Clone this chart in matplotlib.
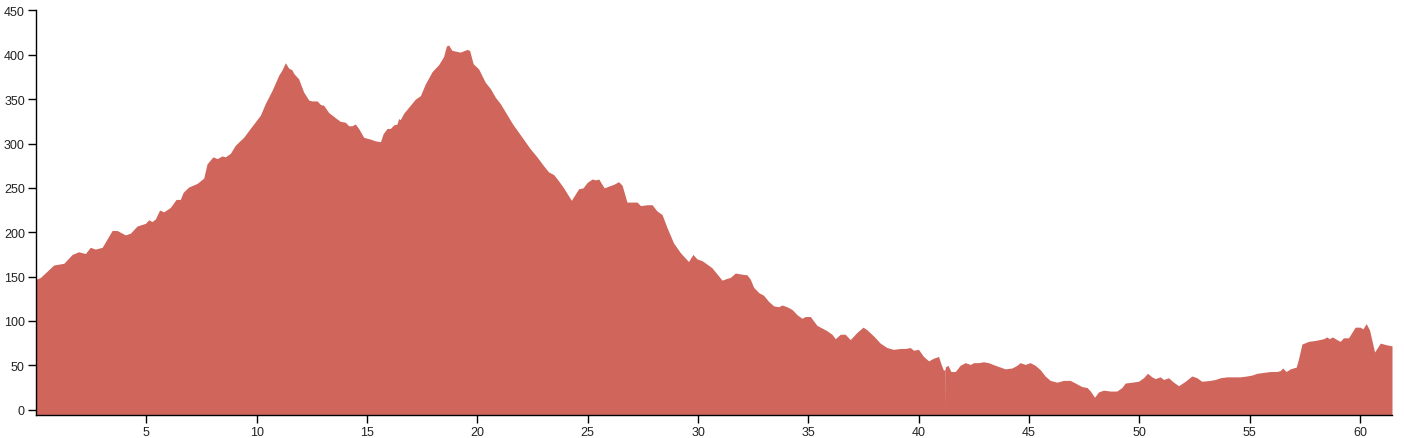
import matplotlib
matplotlib.use('Agg')
import matplotlib.pyplot as plt

plt.rcParams['font.family'] = ['Liberation Sans', 'DejaVu Sans']

# distance (km) and elevation (m), read from the profile
distance = [
    0.0, 0.2, 0.5, 0.8, 1.26, 1.64, 1.93, 2.24, 2.46, 2.69, 3.0, 3.45, 3.67,
    4.05, 4.28, 4.58, 4.96, 5.11, 5.26, 5.41, 5.60, 5.79, 6.09, 6.35, 6.54,
    6.67, 6.92, 7.30, 7.60, 7.75, 8.02, 8.21, 8.43, 8.58, 8.81, 9.03, 9.41,
    9.71, 10.17, 10.39, 10.70, 11.00, 11.15, 11.30, 11.45, 11.60, 11.68,
    11.90, 12.13, 12.36, 12.51, 12.74, 12.89, 13.04, 13.26, 13.57, 13.79,
    14.02, 14.17, 14.32, 14.47, 14.62, 14.85, 15.15, 15.38, 15.61, 15.73,
    15.91, 16.06, 16.21, 16.36, 16.43, 16.51, 16.66, 16.89, 17.19, 17.42,
    17.64, 17.95, 18.25, 18.47, 18.60, 18.70, 18.85, 19.23, 19.53, 19.65,
    19.81, 20.06, 20.36, 20.59, 20.82, 21.04, 21.6, 22.40, 22.70, 23.00,
    23.23, 23.46, 23.68, 23.91, 24.26, 24.44, 24.59, 24.79, 24.97, 25.20,
    25.35, 25.50, 25.75, 25.95, 26.18, 26.40, 26.56, 26.78, 27.01, 27.24,
    27.39, 27.69, 27.92, 28.14, 28.37, 28.60, 28.89, 29.20, 29.42, 29.57,
    29.77, 29.95, 30.18, 30.41, 30.63, 30.86, 31.09, 31.31, 31.46, 31.69,
    31.92, 32.22, 32.37, 32.52, 32.75, 32.97, 33.20, 33.43, 33.65, 33.81,
    34.03, 34.26, 34.49, 34.71, 34.86, 35.09, 35.39, 35.62, 35.84, 36.07,
    36.22, 36.45, 36.67, 36.90, 37.20, 37.48, 37.66, 37.96, 38.26, 38.56,
    38.86, 39.17, 39.39, 39.62, 39.77, 39.99, 40.22, 40.45, 40.67, 40.90,
    41.02, 41.13, 41.195, 41.20, 41.205, 41.33, 41.46, 41.66, 41.88, 42.11,
    42.34, 42.49, 42.71, 42.94, 43.16, 43.47, 43.70, 43.92, 44.23, 44.45,
    44.60, 44.83, 45.05, 45.28, 45.51, 45.73, 45.96, 46.27, 46.57, 46.87,
    47.10, 47.40, 47.63, 47.78, 47.97, 48.15, 48.38, 48.68, 48.98, 49.21,
    49.36, 49.67, 49.96, 50.19, 50.37, 50.57, 50.72, 50.95, 51.10, 51.32,
    51.55, 51.78, 52.08, 52.38, 52.61, 52.83, 53.21, 53.44, 53.67, 53.97,
    54.27, 54.57, 54.88, 55.10, 55.33, 55.63, 55.93, 56.23, 56.38, 56.50,
    56.65, 56.84, 57.11, 57.21, 57.37, 57.67, 57.97, 58.35, 58.50, 58.61,
    58.75, 58.95, 59.10, 59.25, 59.48, 59.63, 59.78, 60.01, 60.13, 60.28,
    60.43, 60.66, 60.92, 61.22, 61.45,
]
elevation = [
    147, 149, 156, 163, 165, 175, 178, 176, 183, 181, 183, 202, 202,
    197, 199, 207, 210, 214, 212, 215, 225, 223, 228, 237, 237,
    245, 251, 255, 261, 277, 285, 283, 286, 285, 289, 298, 307,
    317, 332, 345, 360, 377, 383, 391, 385, 383, 379,
    373, 358, 349, 348, 348, 344, 343, 335, 329, 325,
    324, 320, 320, 322, 317, 307, 305, 303, 302, 311,
    317, 317, 321, 322, 328, 327, 334, 341, 350, 354,
    367, 381, 389, 398, 410, 411, 405, 403, 406, 405,
    390, 384, 369, 362, 352, 345, 322, 294, 285, 275,
    268, 265, 258, 250, 236, 243, 249, 250, 256, 260,
    259, 260, 250, 252, 254, 257, 253, 234, 234, 234,
    230, 231, 231, 224, 220, 205, 188, 177, 171, 167,
    175, 170, 168, 164, 160, 153, 146, 148, 149, 154,
    153, 152, 147, 138, 132, 129, 122, 117, 116, 118,
    116, 113, 107, 103, 105, 105, 95, 92, 89, 85,
    80, 85, 85, 79, 87, 93, 90, 83, 75, 70,
    68, 69, 69, 70, 67, 68, 60, 55, 58, 60,
    51, 44, 46, 0, 48, 50, 43, 43, 50, 53,
    51, 53, 53, 54, 53, 50, 48, 46, 47, 50,
    53, 51, 53, 50, 45, 38, 33, 31, 33, 33,
    30, 26, 25, 21, 14, 20, 22, 21, 21, 25,
    30, 31, 32, 36, 41, 37, 35, 37, 34, 36,
    31, 27, 32, 38, 36, 32, 33, 34, 36, 37,
    37, 37, 38, 39, 41, 42, 43, 43, 44, 47,
    43, 46, 48, 57, 74, 77, 78, 80, 82, 80,
    82, 79, 77, 81, 81, 87, 93, 93, 91, 97,
    90, 65, 75, 73, 72,
]

y_ticks = [0, 50, 100, 150, 200, 250, 300, 350, 400, 450]
x_ticks = [5, 10, 15, 20, 25, 30, 35, 40, 45, 50, 55, 60]

FILL = '#cf655b'

fig = plt.figure(figsize=(14.04, 4.39), dpi=100)
ax = fig.add_axes([36 / 1404, 1 - 416 / 439, (1392 - 36) / 1404, (416 - 11) / 439])

ax.fill_between(distance, elevation, -6, color=FILL, linewidth=0)

ax.set_xlim(0, 61.45)
ax.set_ylim(-6, 450.5)
ax.set_xticks(x_ticks)
ax.set_yticks(y_ticks)

for side in ['top', 'right']:
    ax.spines[side].set_visible(False)
for side in ['left', 'bottom']:
    ax.spines[side].set_color('#000000')
    ax.spines[side].set_linewidth(1)

ax.tick_params(axis='both', direction='out', length=6, width=1, color='#000000',
               labelsize=9, labelcolor='#222222', pad=2)

fig.savefig('out.png', dpi=100, facecolor='white')
plt.close()
